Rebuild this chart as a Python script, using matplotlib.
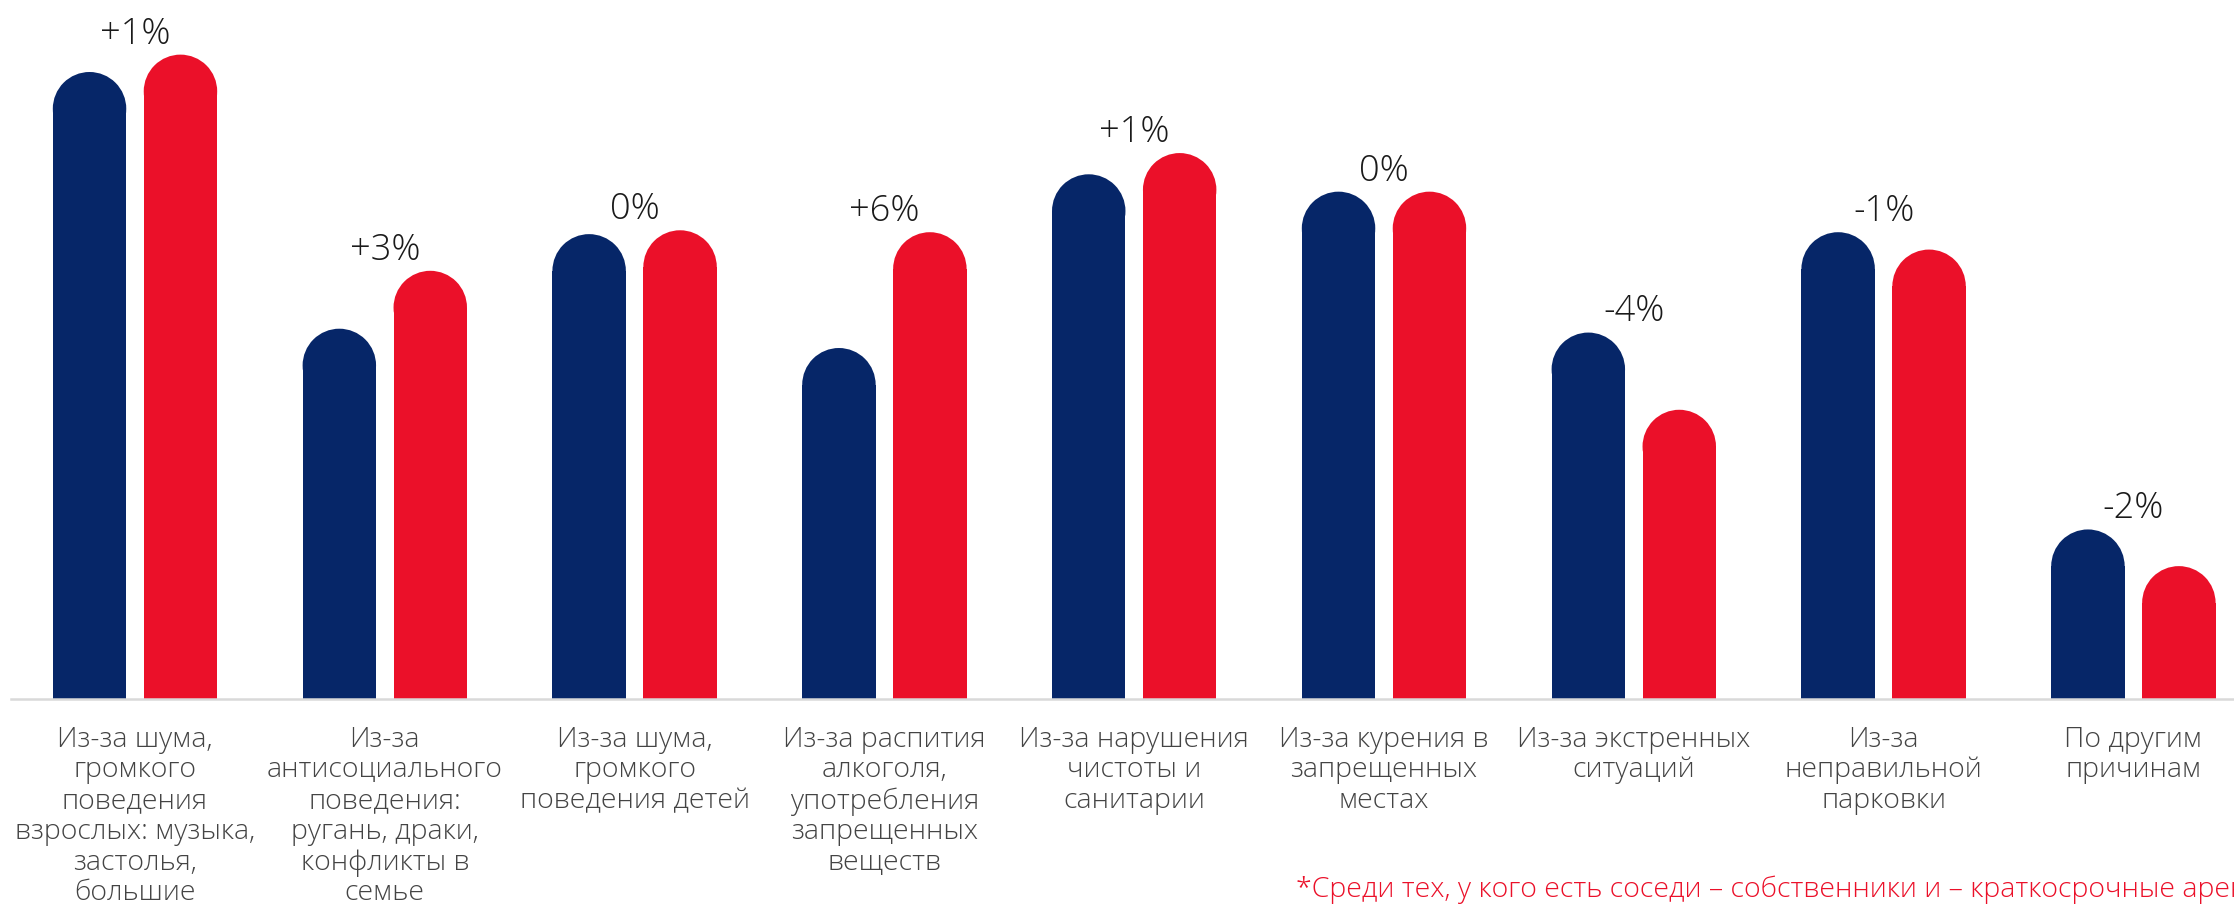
import matplotlib
matplotlib.use('Agg')
import matplotlib.pyplot as plt
from matplotlib.patches import Ellipse

plt.rcParams['font.family'] = ['Open Sans', 'DejaVu Sans']

categories = [
    'Из-за шума,\nгромкого\nповедения\nвзрослых: музыка,\nзастолья,\nбольшие',
    'Из-за\nантисоциального\nповедения:\nругань, драки,\nконфликты в\nсемье',
    'Из-за шума,\nгромкого\nповедения детей',
    'Из-за распития\nалкоголя,\nупотребления\nзапрещенных\nвеществ',
    'Из-за нарушения\nчистоты и\nсанитарии',
    'Из-за курения в\nзапрещенных\nместах',
    'Из-за экстренных\nситуаций',
    'Из-за\nнеправильной\nпарковки',
    'По другим\nпричинам',
]
before = [32.5, 19.2, 24.1, 18.2, 27.2, 26.3, 19.0, 24.2, 8.8]
after = [33.4, 22.2, 24.3, 24.2, 28.3, 26.3, 15.0, 23.3, 6.9]
changes = ['+1%', '+3%', '0%', '+6%', '+1%', '0%', '-4%', '-1%', '-2%']
footnote = '*Среди тех, у кого есть соседи – собственники и – краткосрочные арендаторы'

blue = '#062668'
red = '#EB1029'

W, H, DPI = 2234, 909, 100
fig = plt.figure(figsize=(W / DPI, H / DPI), dpi=DPI)

left_px, base_px = 11, 699.3
ax = fig.add_axes([left_px / W, (H - base_px) / H, 1 - left_px / W, base_px / H])

group_px = 249.8
xmin = -(135 - left_px) / group_px
xmax = xmin + (W - left_px) / group_px
ymax = 36.23
ax.set_xlim(xmin, xmax)
ax.set_ylim(0, ymax)

px_x = (W - left_px) / (xmax - xmin)
px_y = base_px / ymax

bw = 0.294
off = 0.182
r_y = (bw * px_x / 2) / px_y

for i in range(len(categories)):
    for x, v, c in [(i - off, before[i], blue), (i + off, after[i], red)]:
        ax.bar(x, v - r_y, width=bw, color=c, linewidth=0)
        ax.add_patch(Ellipse((x, v - r_y), bw, 2 * r_y, color=c, linewidth=0))
    top = max(before[i], after[i])
    ax.annotate(changes[i], (i, top), xytext=(0, 8), textcoords='offset points',
                ha='center', va='baseline', fontsize=26, color='#1a1a1a',
                fontweight='light')
    ax.annotate(categories[i], (i, 0), xytext=(0, -19), textcoords='offset points',
                ha='center', va='top', fontsize=20.5, color='#444444',
                fontweight='light', linespacing=1.13, annotation_clip=False)

for s in ['top', 'right', 'left']:
    ax.spines[s].set_visible(False)
ax.spines['bottom'].set_color('#d9d9d9')
ax.spines['bottom'].set_linewidth(1.8)
ax.set_xticks([])
ax.set_yticks([])

# сноска обрезана правым краем, как в исходной картинке
fig.text(1295.6 / W, 12 / H, footnote, ha='left', va='baseline',
         fontsize=20.5, color=red, fontweight='light')

fig.savefig('out.png', dpi=DPI)
